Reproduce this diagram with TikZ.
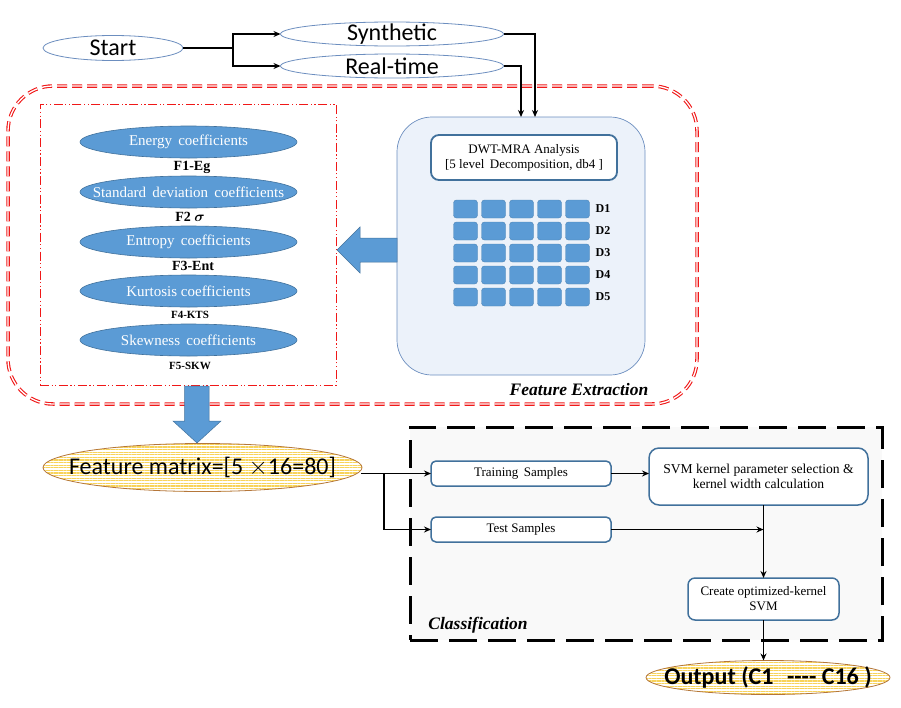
\documentclass[tikz,border=0pt]{standalone}
\usepackage{fontspec}
\setmainfont{Liberation Serif}
\newfontfamily\calfont{Carlito}
\usetikzlibrary{shapes.geometric, arrows.meta, patterns.meta}
\definecolor{bfill}{HTML}{5B9BD5}
\definecolor{bdraw}{HTML}{41719C}
\definecolor{edraw}{HTML}{6C8EBF}
\definecolor{dwtfill}{HTML}{ECF2FA}
\definecolor{clsfill}{HTML}{F9F9F9}
\definecolor{stripe}{HTML}{F8D35A}
\definecolor{brown}{HTML}{B5773A}
\definecolor{redline}{HTML}{F01818}
\begin{document}
\begin{tikzpicture}[x=1pt,y=-1pt,
  every node/.style={inner sep=0pt, outer sep=0pt},
  ellfix/.style={ellipse, inner xsep=-80pt, inner ysep=-12pt},
  topell/.style={ellfix, draw=edraw, line width=0.8pt, fill=white, minimum width=223pt, minimum height=24pt, font=\calfont\fontsize{24}{26}\selectfont},
  coef/.style={ellfix, draw=bdraw, line width=0.6pt, fill=bfill, text=white, minimum width=217pt, minimum height=32pt, font=\fontsize{15}{17}\selectfont},
  flab/.style={font=\bfseries\fontsize{14}{16}\selectfont},
  flabs/.style={font=\bfseries\fontsize{11}{13}\selectfont},
  cell/.style={rectangle, rounded corners=3pt, fill=bfill, draw=bfill!85!black, line width=0.4pt, minimum width=24pt, minimum height=18pt},
  dlab/.style={font=\bfseries\fontsize{12}{14}\selectfont},
  stripell/.style={ellfix, draw=brown, line width=0.8pt, preaction={fill=white}, pattern={Lines[angle=0,distance=2.6pt,line width=1.2pt]}, pattern color=stripe},
  procbox/.style={rectangle, draw=bdraw, line width=1.5pt, fill=white, rounded corners=5pt, align=center, font=\fontsize{13}{15}\selectfont},
  conn/.style={draw=black, line width=1.8pt, -{Stealth[length=7pt,width=6pt]}},
  thickconn/.style={draw=black, line width=2.6pt},
  blockarrow/.style={fill=bfill, draw=bdraw, line width=0.5pt}
]
\useasboundingbox (0,0) rectangle (901,707);

% ---------- top part ----------
\node[topell, minimum width=140pt, minimum height=25pt] (st) at (113,48) {Start};
\node[topell] (syn) at (392,34) {Synthetic};
\node[topell] (real) at (392,66) {Real-time};

% ---------- feature extraction container ----------
\node[draw=redline, double=white, double distance=1.3pt, line width=1.1pt, dash pattern=on 10pt off 5pt, rounded corners=45pt, minimum width=689pt, minimum height=318pt] (fe) at (352.5,245) {};
\node[font=\bfseries\itshape\fontsize{17.5}{19}\selectfont] (felab) at (579,390) {Feature Extraction};

\node[draw=redline, line width=1pt, dash pattern=on 9pt off 2.5pt on 1.2pt off 2.5pt on 1.2pt off 2.5pt, minimum width=296pt, minimum height=281pt] (fbox) at (188,244.5) {};

\node[coef] (e1) at (188.5,142) {Energy\, coefficients};
\node[coef] (e2) at (188.5,192) {Standard\, deviation\, coefficients};
\node[coef] (e3) at (188.5,242) {Entropy\, coefficients};
\node[coef] (e4) at (188.5,291) {Kurtosis coefficients};
\node[coef] (e5) at (188.5,340) {Skewness\, coefficients};
\node[flab] (l1) at (192,167) {F1-Eg};
\node[flab] (l2) at (190,217) {F2 {\boldmath$\sigma$}};
\node[flab] (l3) at (193,266) {F3-Ent};
\node[flabs] (l4) at (190,315) {F4-KTS};
\node[flabs] (l5) at (190,366) {F5-SKW};

% ---------- DWT block ----------
\node[draw=edraw, line width=0.7pt, fill=dwtfill, rounded corners=35pt, minimum width=248pt, minimum height=258pt] (dwt) at (521,246) {};
\node[procbox, draw=bdraw, line width=1.8pt, rounded corners=8pt, minimum width=186pt, minimum height=45pt] (dwtin) at (524,157.5) {DWT-MRA Analysis\\\relax [5 level\, Decomposition, db4 ]};

\foreach \j in {1,...,5}{
  \foreach \i in {1,...,5}{
    \node[cell] (c\i\j) at ({465.5+28*(\i-1)},{209+22*(\j-1)}) {};
  }
  \node[dlab] (d\j) at (603,{209+22*(\j-1)}) {D\j};
}

% blue block arrows
\fill[blockarrow] (397,238) -- (360,238) -- (360,227) -- (337,250) -- (360,273) -- (360,262) -- (397,262) -- cycle;
\node[stripell, minimum width=319pt, minimum height=48pt, font=\calfont\fontsize{24}{26}\selectfont] (fm) at (202.5,467.5) {Feature matrix=[5 $\times$16=80]};
\fill[blockarrow] (184.5,386) -- (209,386) -- (209,421) -- (221,421) -- (197,443) -- (173,421) -- (184.5,421) -- cycle;

% ---------- classification ----------
\node[draw=black, fill=clsfill, line width=3pt, dash pattern=on 28pt off 11pt, minimum width=472pt, minimum height=213pt] (cls) at (646,533.5) {};
\node[font=\bfseries\itshape\fontsize{17.5}{19}\selectfont] (clslab) at (478,625) {Classification};

\node[procbox, minimum width=180pt, minimum height=25pt] (train) at (521,473.5) {Training\, Samples};
\node[procbox, minimum width=180pt, minimum height=25pt] (test) at (521,529.5) {Test Samples};
\node[procbox, rounded corners=10pt, minimum width=219pt, minimum height=57pt, font=\fontsize{13.6}{15}\selectfont] (svm) at (758.5,476.5) {SVM kernel parameter selection \&\\kernel width calculation};
\node[procbox, rounded corners=7pt, minimum width=151pt, minimum height=42pt] (create) at (763.5,599) {Create optimized-kernel\\SVM};
\node[stripell, minimum width=244pt, minimum height=34pt, font=\calfont\bfseries\fontsize{24}{26}\selectfont] (out) at (768,677.5) {Output (C1\,\, ---- C16 )};

% ---------- connectors ----------
\draw[thickconn] (st.east) -- ++(50,0) coordinate (sj);
\draw[thickconn, line width=2.2pt, -{Stealth[length=7pt,width=6pt]}] (sj) |- (syn.west);
\draw[thickconn, line width=2.2pt, -{Stealth[length=7pt,width=6pt]}] (sj) |- (real.west);
\draw[conn, line width=2pt] (syn.east) -| ([xshift=14pt]dwt.north);
\draw[conn, line width=2pt] (real.east) -| (dwt.north);

\draw[conn] ([xshift=-1pt]fm.east |- train.west) -- (train.west);
\draw[conn] ([xshift=-47pt]train.west) |- (test.west);
\draw[conn] (train.east) -- (train.east -| svm.west);
\draw[conn] (create.north |- svm.south) -- (create.north);
\draw[conn] (test.east) -- (test.east -| create.north);
\draw[conn] (create.south) -- (create.south |- out.north);
\end{tikzpicture}
\end{document}
